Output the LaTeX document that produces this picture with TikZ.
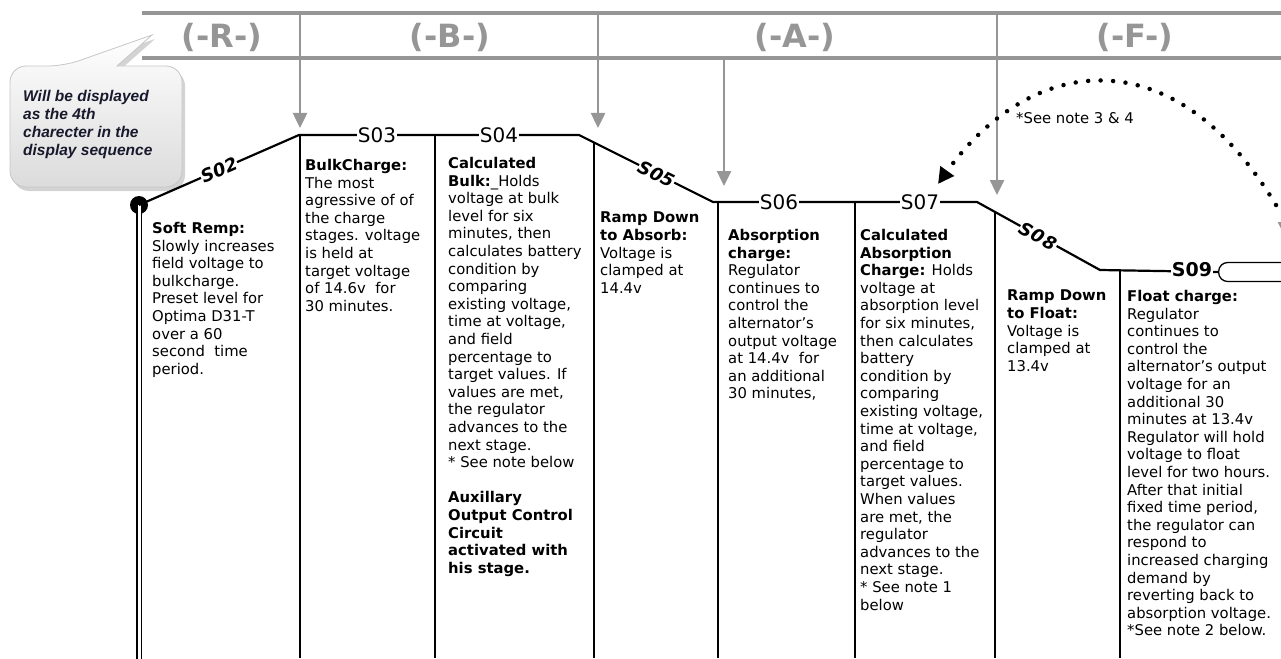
\documentclass[tikz,border=0pt]{standalone}
\usepackage{fontspec}
\setmainfont{DejaVu Sans}
\newfontfamily\bubblefont{Liberation Sans}
\usetikzlibrary{arrows.meta}
\usetikzlibrary{shadows}
\definecolor{bargray}{RGB}{150,150,150}
\definecolor{bubbleink}{RGB}{25,25,45}

\begin{document}
\begin{tikzpicture}[x=1pt, y=-1pt,
  bar/.style={draw=bargray, line width=4pt},
  feed/.style={draw=bargray, line width=2.5pt, -{Triangle[length=15pt,width=14pt]}},
  curve/.style={draw=black, line width=2.2pt},
  divider/.style={draw=black, line width=1.3pt},
  phase/.style={text=bargray, font=\fontsize{32}{32}\selectfont\bfseries},
  stagelbl/.style={fill=white, inner sep=1pt, font=\fontsize{20}{20}\selectfont},
  slopelbl/.style={fill=white, inner sep=0.5pt, sloped, font=\fontsize{18}{18}\selectfont\bfseries\itshape},
  note/.style={anchor=north west, align=left, inner sep=0pt, font=\fontsize{14.8}{17.6}\selectfont},
  bubble/.style={draw=gray!45, line width=0.8pt, top color=white, bottom color=gray!28,
    drop shadow={opacity=0.35, shadow xshift=3pt, shadow yshift=-4pt}},
  loopback/.style={draw, line width=4.5pt, line cap=round, dash pattern=on 0pt off 12.5pt,
    -{Triangle[length=16pt,width=16pt]}}]
  \useasboundingbox (0,0) rectangle (1281,658);
  \clip (0,0) rectangle (1281,658);

  \path[bubble] (10,110) [rounded corners=16pt] -- (10,66) -- (64,66) [sharp corners] -- (152,35) -- (117,66) [rounded corners=16pt] -- (182,66) -- (182,187) -- (10,187) -- cycle;
  \node[anchor=north west, align=left, inner sep=0pt, text=bubbleink,
    font=\bubblefont\fontsize{15.5}{18}\selectfont\bfseries\itshape] (bubbletext) at (23,90)
    {Will be displayed\\as the 4th\\charecter in the\\display sequence};

  \coordinate (topL) at (142,13);
  \coordinate (topR) at (1281,13);
  \coordinate (botL) at (142,58);
  \coordinate (botR) at (1281,58);
  \draw[bar] (topL) -- (topR);
  \draw[bar] (botL) -- (botR);
  \node[phase] (phaseR) at (222,37) {(-R-)};
  \node[phase] (phaseB) at (450,37) {(-B-)};
  \node[phase] (phaseA) at (795,37) {(-A-)};
  \node[phase] (phaseF) at (1135,37) {(-F-)};

  \coordinate (fR) at (300,13);
  \coordinate (fRend) at (300,128);
  \coordinate (fB) at (598,13);
  \coordinate (fBend) at (598,128);
  \coordinate (fA) at (724,58);
  \coordinate (fAend) at (724,186);
  \coordinate (fF) at (997,13);
  \coordinate (fFend) at (997,195);
  \coordinate (fX) at (1285,58);
  \coordinate (fXend) at (1285,237);
  \draw[feed] (fR) -- (fRend);
  \draw[feed] (fB) -- (fBend);
  \draw[feed] (fA) -- (fAend);
  \draw[feed] (fF) -- (fFend);
  \draw[feed] (fX) -- (fXend);

  \draw[divider] (300,135) -- (300,658);
  \draw[divider] (435,135) -- (435,658);
  \draw[divider] (594,142) -- (594,658);
  \draw[divider] (718,202) -- (718,658);
  \draw[divider] (855,202) -- (855,658);
  \draw[divider] (995,212) -- (995,658);
  \draw[divider] (1120,270) -- (1120,658);

  \node[draw, line width=1.3pt, rounded corners=9pt, minimum width=120pt, minimum height=19pt,
    anchor=west, inner sep=0pt] (hold) at (1218,272) {};
  \node[circle, fill, minimum size=18pt, inner sep=0pt] (start) at (139,205) {};
  \draw[line width=1.8pt, double, double distance=3pt] (start.center) -- (139,660);
  \coordinate (k1) at (299,135);
  \coordinate (k2) at (579,135);
  \coordinate (k3) at (713,202);
  \coordinate (k4) at (977,202);
  \coordinate (k5) at (1100,270);
  \draw[curve] (start.center) -- node[slopelbl] (s02) {S02} (k1) -- (k2)
    -- node[slopelbl, pos=0.58] (s05) {S05} (k3) -- (k4)
    -- node[slopelbl] (s08) {S0\kern2pt 8} (k5) -- (hold.west);
  \node[stagelbl] (s03) at (377,135) {S03};
  \node[stagelbl] (s04) at (499,135) {S04};
  \node[stagelbl] (s06) at (779,202) {S06};
  \node[stagelbl] (s07) at (920,202) {S07};
  \node[fill=white, inner sep=0.5pt, font=\fontsize{19}{19}\selectfont\bfseries] (s09) at (1192,270) {S09};

  \coordinate (loopstart) at (1276,205);
  \coordinate (loopend) at (938,184);
  \draw[loopback] (loopstart) .. controls (1173,34) and (1030,55) .. (loopend);
  \node[anchor=west, inner sep=0pt, font=\fontsize{14.8}{17.6}\selectfont] (seenote) at (1016,118) {*See note 3 \& 4};

  \node[note] (softremp) at (152,222)
    {\textbf{Soft Remp:}\\Slowly increases\\field voltage to\\bulkcharge.\\Preset level for\\Optima D31-T\\over a 60\\second\ \ time\\period.};
  \node[note] (bulk) at (305,159)
    {\textbf{BulkCharge:}\\The most\\agressive of of\\the charge\\stages. voltage\\is held at\\target voltage\\of 14.6v\ \ for\\30 minutes.};
  \node[note] (calcbulk) at (448,157)
    {\textbf{Calculated}\\\textbf{Bulk:}\_Holds\\voltage at bulk\\level for six\\minutes, then\\calculates battery\\condition by\\comparing\\existing voltage,\\time at voltage,\\and field\\percentage to\\target values. If\\values are met,\\the regulator\\advances to the\\next stage.\\* See note below\\[17.6pt]\textbf{Auxillary}\\\textbf{Output Control}\\\textbf{Circuit}\\\textbf{activated with}\\\textbf{his stage.}};
  \node[note] (rampabs) at (600,212)
    {\textbf{Ramp Down}\\\textbf{to Absorb:}\\Voltage is\\clamped at\\14.4v};
  \node[note] (absorb) at (728,229)
    {\textbf{Absorption}\\\textbf{charge:}\\Regulator\\continues to\\control the\\alternator’s\\output voltage\\at 14.4v\ \ for\\an additional\\30 minutes,};
  \node[note] (calcabs) at (860,229)
    {\textbf{Calculated}\\\textbf{Absorption}\\\textbf{Charge:} Holds\\voltage at\\absorption level\\for six minutes,\\then calculates\\battery\\condition by\\comparing\\existing voltage,\\time at voltage,\\and field\\percentage to\\target values.\\When values\\are met, the\\regulator\\advances to the\\next stage.\\* See note 1\\below};
  \node[note] (rampfloat) at (1007,290)
    {\textbf{Ramp Down}\\\textbf{to Float:}\\Voltage is\\clamped at\\13.4v};
  \node[note] (float) at (1127,290)
    {\textbf{Float charge:}\\Regulator\\continues to\\control the\\alternator’s output\\voltage for an\\additional 30\\minutes at 13.4v\\Regulator will hold\\voltage to float\\level for two hours.\\After that initial\\fixed time period,\\the regulator can\\respond to\\increased charging\\demand by\\reverting back to\\absorption voltage.\\*See note 2 below.};
\end{tikzpicture}
\end{document}
